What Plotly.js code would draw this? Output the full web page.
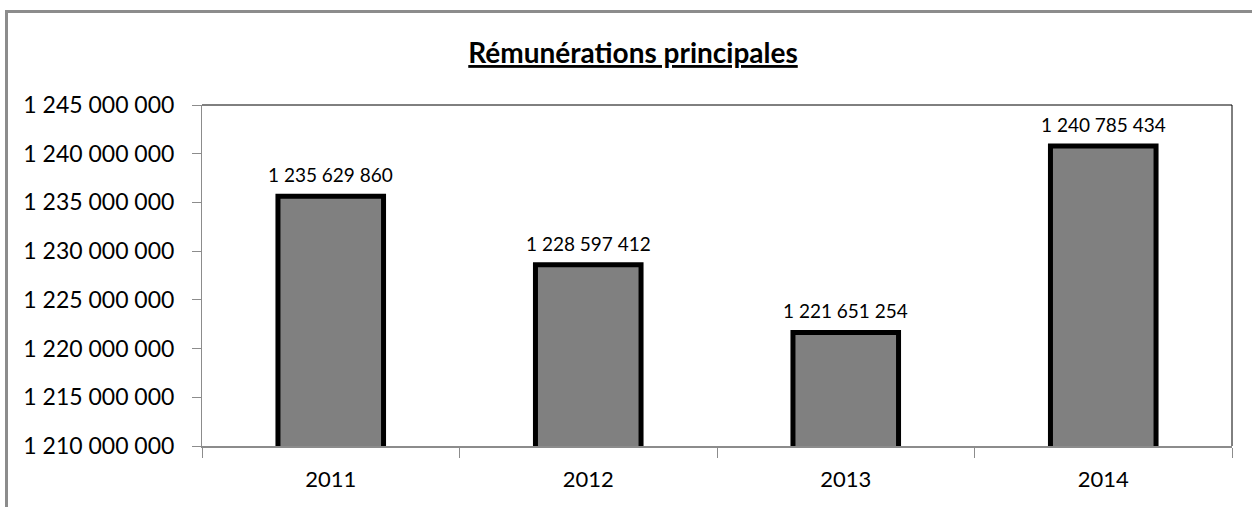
<!DOCTYPE html>
<html>
<head>
<meta charset="utf-8">
<script src="https://cdn.plot.ly/plotly-3.0.1.min.js"></script>
<style>
  body { margin: 0; background: #fff; }
  #chart { width: 1252px; height: 507px; }
  #frame {
    position: absolute; left: 5px; top: 10px;
    width: 1300px; height: 600px;
    border: 3px solid #8c8c8c; pointer-events: none;
  }
</style>
</head>
<body>
<div id="chart"></div>
<div id="frame"></div>
<script>
// Rémunérations principales
const years = ["2011", "2012", "2013", "2014"];
const amounts = [1235629860, 1228597412, 1221651254, 1240785434];
const amountLabels = ["1 235 629 860", "1 228 597 412", "1 221 651 254", "1 240 785 434"];
const yTicks = [1210000000, 1215000000, 1220000000, 1225000000, 1230000000, 1235000000, 1240000000, 1245000000];

function plotRemunerations() {
  const trace = {
    x: years,
    y: amounts,
    type: "bar",
    marker: { color: "#808080", line: { color: "#000", width: 5 } },
    cliponaxis: false,
    hoverinfo: "skip",
  };

  // value labels above each bar (x = category index, years look numeric)
  const labels = years.map((yr, i) => ({
    x: i,
    y: amounts[i],
    text: amountLabels[i],
    showarrow: false,
    xanchor: "center",
    yanchor: "bottom",
    yshift: 8,
    font: { family: "Lato, sans-serif", size: 19, color: "#000" },
  }));

  const layout = {
    width: 1252,
    height: 507,
    separators: ", ",
    font: { family: "Lato, sans-serif", color: "#000" },
    title: {
      text: "<b><u>Rémunérations principales</u></b>",
      font: { size: 28, color: "#000" },
      x: 0.5056,
      xanchor: "center",
      y: 0.895,
      yanchor: "middle",
    },
    showlegend: false,
    bargap: 0.59,
    margin: { l: 202, r: 20, t: 105, b: 61, pad: 0 },
    xaxis: {
      type: "category",
      range: [-0.5, 3.5],
      showline: true,
      linecolor: "#8c8c8c",
      linewidth: 2,
      ticks: "outside",
      tickson: "boundaries",
      ticklen: 10,
      tickcolor: "#8c8c8c",
      ticklabelstandoff: 13,
      tickfont: { size: 22 },
      showgrid: false,
    },
    yaxis: {
      range: [1210000000, 1245000000],
      tickvals: yTicks,
      tickformat: ",d",
      showline: true,
      linecolor: "#8c8c8c",
      linewidth: 1,
      ticks: "outside",
      ticklen: 9,
      tickcolor: "#8c8c8c",
      ticklabelstandoff: 13,
      tickfont: { size: 23 },
      showgrid: false,
      zeroline: false,
    },
    annotations: labels,
    shapes: [
      {
        type: "line", xref: "paper", yref: "paper",
        x0: 0, x1: 1, y0: 1, y1: 1,
        line: { color: "#000", width: 1 },
      },
      {
        type: "line", xref: "paper", yref: "paper",
        x0: 1, x1: 1, y0: 0, y1: 1,
        line: { color: "#000", width: 1 },
      },
    ],
  };

  Plotly.newPlot("chart", [trace], layout, { staticPlot: true });
}

plotRemunerations();
</script>
</body>
</html>
